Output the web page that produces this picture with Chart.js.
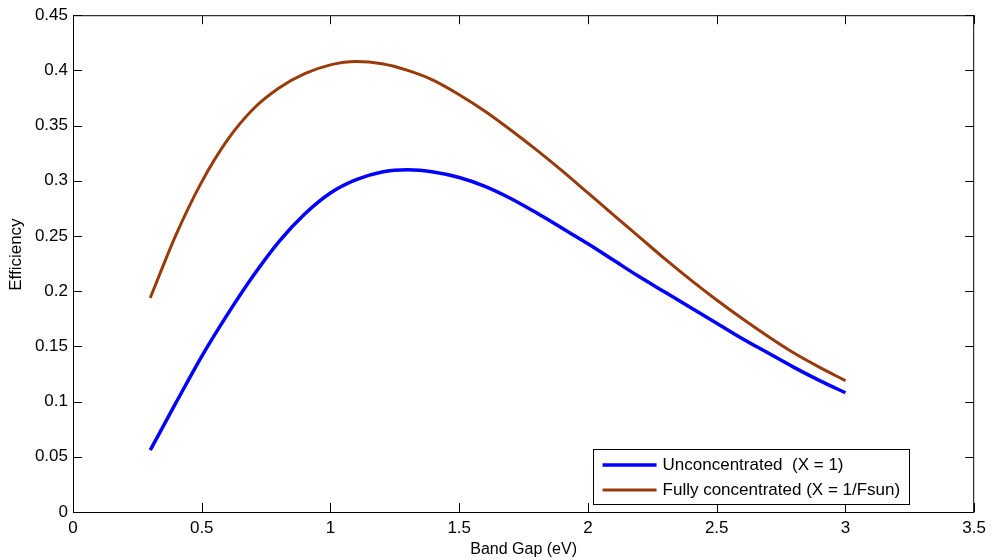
<!DOCTYPE html>
<html>
<head>
<meta charset="utf-8">
<script src="https://cdn.jsdelivr.net/npm/chart.js@4/dist/chart.umd.min.js"></script>
<style>
  html, body { margin: 0; padding: 0; background: #fff; }
  #wrap { width: 992px; height: 560px; }
</style>
</head>
<body>
<div id="wrap"><canvas id="effChart"></canvas></div>
<script>
// Band gap (eV) sample points
var bandGap = [0.3, 0.4, 0.5, 0.6, 0.7, 0.8, 0.9, 1.0, 1.1, 1.2, 1.3, 1.4, 1.5, 1.6,
               1.7, 1.8, 1.9, 2.0, 2.1, 2.2, 2.3, 2.4, 2.5, 2.6, 2.7, 2.8, 2.9, 3.0];

// Efficiency, no concentration
var unconcentrated = [0.056, 0.099, 0.141, 0.179, 0.214, 0.245, 0.270, 0.289, 0.301, 0.308,
                      0.310, 0.308, 0.303, 0.295, 0.284, 0.271, 0.257, 0.243, 0.228, 0.213,
                      0.199, 0.185, 0.171, 0.157, 0.144, 0.131, 0.119, 0.108];

// Efficiency, full concentration
var fullyConcentrated = [0.194, 0.251, 0.299, 0.337, 0.365, 0.384, 0.397, 0.405, 0.408, 0.406,
                         0.400, 0.391, 0.378, 0.363, 0.346, 0.328, 0.309, 0.289, 0.269, 0.249,
                         0.229, 0.210, 0.192, 0.175, 0.159, 0.144, 0.131, 0.119];

var seriesNames = ['Unconcentrated  (X = 1)', 'Fully concentrated (X = 1/Fsun)'];

var xTicks = [0, 0.5, 1, 1.5, 2, 2.5, 3, 3.5];
var yTicks = [0, 0.05, 0.1, 0.15, 0.2, 0.25, 0.3, 0.35, 0.4, 0.45];

var FONT = '"Liberation Sans", Arial, Helvetica, sans-serif';
var FONT_SIZE = 17;

function toPoints(xs, ys) {
  return xs.map(function(x, i) { return { x: x, y: ys[i] }; });
}

// box around the axes + inward ticks on all four sides, y label and legend
var boxPlugin = {
  id: 'boxPlugin',
  afterDraw: function(chart) {
    var ctx = chart.ctx;
    var a = chart.chartArea;
    var xs = chart.scales.x, ys = chart.scales.y;
    var tl = 9;
    ctx.save();
    ctx.strokeStyle = '#000';
    ctx.lineWidth = 1;
    ctx.strokeRect(a.left + 0.5, a.top + 0.5, a.right - a.left - 1, a.bottom - a.top);
    ctx.beginPath();
    xTicks.forEach(function(v) {
      var px = Math.round(xs.getPixelForValue(v)) + 0.5;
      ctx.moveTo(px, a.bottom); ctx.lineTo(px, a.bottom - tl);
      ctx.moveTo(px, a.top); ctx.lineTo(px, a.top + tl);
    });
    yTicks.forEach(function(v) {
      var py = Math.round(ys.getPixelForValue(v)) + 0.5;
      ctx.moveTo(a.left, py); ctx.lineTo(a.left + tl, py);
      ctx.moveTo(a.right, py); ctx.lineTo(a.right - tl, py);
    });
    ctx.stroke();

    // y axis label, a little above the axis centre
    ctx.save();
    ctx.translate(16, (a.top + a.bottom) / 2 - 9);
    ctx.rotate(-Math.PI / 2);
    ctx.font = FONT_SIZE + 'px ' + FONT;
    ctx.fillStyle = '#000';
    ctx.textAlign = 'center';
    ctx.textBaseline = 'middle';
    ctx.fillText('Efficiency', 0, 0);
    ctx.restore();

    // legend
    ctx.font = FONT_SIZE + 'px ' + FONT;
    var textW = 0;
    chart.data.datasets.forEach(function(ds) {
      textW = Math.max(textW, ctx.measureText(ds.label).width);
    });
    var right = a.right - 66, bottom = a.bottom - 8;
    var w = 10 + 54 + 6 + textW + 8, h = 55;
    var left = right - w, top = bottom - h;
    ctx.fillStyle = '#fff';
    ctx.fillRect(left, top, w, h);
    ctx.strokeRect(Math.round(left) + 0.5, Math.round(top) + 0.5, Math.round(w), Math.round(h));
    chart.data.datasets.forEach(function(ds, i) {
      var cy = top + 16 + i * 25;
      ctx.strokeStyle = ds.borderColor;
      ctx.lineWidth = ds.borderWidth;
      ctx.beginPath();
      ctx.moveTo(left + 10, cy); ctx.lineTo(left + 64, cy);
      ctx.stroke();
      ctx.fillStyle = '#000';
      ctx.textBaseline = 'middle';
      ctx.fillText(ds.label, left + 70, cy);
    });
    ctx.restore();
  }
};

var ctx = document.getElementById('effChart').getContext('2d');
var effChart = new Chart(ctx, {
  type: 'line',
  data: {
    datasets: [{
      label: seriesNames[0],
      data: toPoints(bandGap, unconcentrated),
      borderColor: '#0000FF',
      borderWidth: 3.5,
      pointRadius: 0,
      cubicInterpolationMode: 'monotone',
      fill: false
    }, {
      label: seriesNames[1],
      data: toPoints(bandGap, fullyConcentrated),
      borderColor: '#993A0A',
      borderWidth: 3,
      pointRadius: 0,
      cubicInterpolationMode: 'monotone',
      fill: false
    }]
  },
  options: {
    responsive: true,
    maintainAspectRatio: false,
    animation: false,
    layout: { padding: { left: 0, right: 16, top: 12, bottom: 0 } },
    plugins: {
      legend: { display: false },
      tooltip: { enabled: false }
    },
    scales: {
      x: {
        type: 'linear',
        min: 0,
        max: 3.5,
        afterBuildTicks: function(scale) {
          scale.ticks = xTicks.map(function(v) { return { value: v }; });
        },
        afterFit: function(scale) { scale.height = 48; },
        grid: { display: false, drawTicks: false },
        border: { display: false },
        ticks: {
          color: '#000',
          padding: 6,
          maxRotation: 0,
          font: { family: FONT, size: FONT_SIZE },
          callback: function(v) { return String(v); }
        },
        title: {
          display: true,
          text: 'Band Gap (eV)',
          color: '#000',
          padding: { top: 0, bottom: 1 },
          font: { family: FONT, size: 16 }
        }
      },
      y: {
        min: 0,
        max: 0.45,
        afterBuildTicks: function(scale) {
          scale.ticks = yTicks.map(function(v) { return { value: v }; });
        },
        afterFit: function(scale) { scale.width = 73; },
        grid: { display: false, drawTicks: false },
        border: { display: false },
        ticks: {
          color: '#000',
          padding: 5,
          font: { family: FONT, size: FONT_SIZE },
          callback: function(v) { return String(+v.toFixed(2)); }
        },
        title: { display: false }
      }
    }
  },
  plugins: [boxPlugin]
});
</script>
</body>
</html>
